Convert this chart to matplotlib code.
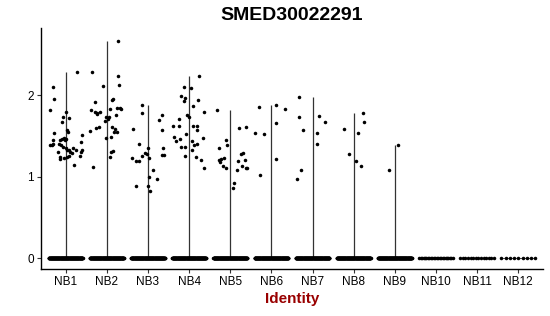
import numpy as np
import matplotlib
matplotlib.use("Agg")
import matplotlib.pyplot as plt

plt.rcParams['font.family'] = ['Liberation Sans', 'DejaVu Sans']

title = "SMED30022291"
xlabel = "Identity"
categories = ["NB1", "NB2", "NB3", "NB4", "NB5", "NB6", "NB7", "NB8", "NB9", "NB10", "NB11", "NB12"]

# number of cells with zero expression per identity
zero_counts = [200, 200, 200, 200, 200, 200, 200, 200, 200, 24, 14, 9]

# non-zero expression values per identity
nb1_vals = [2.29, 2.11, 1.96, 1.82, 1.80, 1.73, 1.72, 1.68, 1.58, 1.55, 1.54, 1.51, 1.48, 1.47, 1.47,
            1.45, 1.45, 1.45, 1.39, 1.39, 1.41, 1.41, 1.39, 1.37, 1.36, 1.33, 1.33, 1.30, 1.29, 1.26,
            1.24, 1.23, 1.24, 1.30, 1.36, 1.33, 1.30, 1.33, 1.43, 1.26, 1.15, 1.22]
nb2_vals = [2.67, 2.29, 2.24, 2.13, 2.12, 1.96, 1.95, 1.92, 1.82, 1.80, 1.79, 1.80, 1.77, 1.84, 1.74,
            1.85, 1.85, 1.84, 1.76, 1.73, 1.71, 1.69, 1.61, 1.59, 1.55, 1.55, 1.49, 1.48, 1.32, 1.30,
            1.24, 1.61, 1.60, 1.56, 1.12]
nb3_vals = [1.88, 1.78, 1.59, 1.76, 1.70, 1.57, 1.41, 1.35, 1.35, 1.29, 1.28, 1.26, 1.23, 1.23, 1.20,
            1.19, 1.27, 1.27, 1.08, 1.00, 0.97, 0.89, 0.89, 0.83]
nb4_vals = [2.24, 2.10, 2.09, 1.99, 1.97, 1.93, 1.94, 1.87, 1.80, 1.76, 1.73, 1.71, 1.62, 1.62, 1.53,
            1.62, 1.63, 1.58, 1.49, 1.44, 1.47, 1.37, 1.37, 1.44, 1.39, 1.33, 1.41, 1.48, 1.26, 1.24,
            1.21, 1.11]
nb5_vals = [1.82, 1.60, 1.61, 1.45, 1.39, 1.36, 1.28, 1.29, 1.21, 1.18, 1.22, 1.23, 1.13, 1.11, 1.20,
            1.21, 1.09, 1.13, 1.11, 1.11, 0.92, 0.86]
nb6_vals = [1.86, 1.88, 1.84, 1.66, 1.54, 1.53, 1.22, 1.02]
nb7_vals = [1.98, 1.74, 1.58, 1.08, 0.98, 1.75, 1.67, 1.54, 1.40]
nb8_vals = [1.59, 1.78, 1.68, 1.54, 1.28, 1.19, 1.13]
nb9_vals = [1.39, 1.08]

# horizontal jitter of the non-zero points (fraction of category spacing)
nb1_jit = [0.28, -0.31, -0.28, -0.39, 0.00, -0.07, 0.08, -0.08, 0.04, 0.06, -0.29, 0.39, -0.05, -0.10, 0.00,
           -0.13, -0.02, -0.32, -0.34, -0.38, -0.31, -0.17, -0.12, -0.07, 0.00, 0.02, 0.07, 0.11, 0.15, 0.08,
           0.02, -0.05, -0.13, -0.19, 0.18, 0.24, 0.36, 0.39, 0.38, 0.34, 0.20, -0.15]
nb2_jit = [0.27, -0.35, 0.28, 0.29, -0.09, 0.15, 0.13, -0.29, -0.39, -0.28, -0.23, -0.17, -0.25, 0.07, 0.05,
           0.25, 0.32, 0.35, 0.22, -0.02, 0.03, -0.05, 0.12, 0.20, 0.17, 0.24, 0.09, -0.01, 0.14, 0.09,
           0.07, -0.19, -0.27, -0.40, -0.33]
nb3_jit = [-0.15, -0.15, -0.37, 0.33, 0.26, 0.33, -0.22, 0.00, 0.36, -0.07, -0.03, -0.15, 0.03, -0.39, -0.30,
           -0.23, 0.33, 0.40, 0.12, 0.03, 0.22, 0.01, -0.30, 0.05]
nb4_jit = [0.25, -0.13, 0.04, -0.20, -0.11, -0.13, 0.21, 0.09, 0.37, -0.05, -0.01, -0.24, -0.39, -0.24, -0.07,
           0.09, 0.20, 0.19, -0.37, -0.33, -0.22, -0.20, -0.09, 0.08, 0.11, 0.06, 0.20, 0.33, -0.11, 0.17,
           0.29, 0.37]
nb5_jit = [-0.32, 0.20, 0.37, -0.10, -0.07, -0.27, 0.26, 0.30, -0.28, -0.26, -0.22, -0.15, -0.18, -0.10, 0.19,
           0.35, 0.17, 0.28, 0.37, 0.41, 0.10, 0.06]
nb6_jit = [-0.29, 0.12, 0.34, 0.11, -0.40, -0.18, 0.10, -0.27]
nb7_jit = [-0.33, -0.34, -0.23, -0.27, -0.39, 0.15, 0.29, 0.10, 0.10]
nb8_jit = [-0.24, 0.23, 0.25, 0.10, -0.12, 0.06, 0.17]
nb9_jit = [0.07, -0.15]

values = [nb1_vals, nb2_vals, nb3_vals, nb4_vals, nb5_vals, nb6_vals, nb7_vals, nb8_vals, nb9_vals, [], [], []]
jitters = [nb1_jit, nb2_jit, nb3_jit, nb4_jit, nb5_jit, nb6_jit, nb7_jit, nb8_jit, nb9_jit, [], [], []]

fig = plt.figure(figsize=(5.5, 3.16), dpi=100)
ax = fig.add_axes([41 / 550, 1 - 269.3 / 316, (543 - 41) / 550, (269.3 - 28.3) / 316])

for i, cat in enumerate(categories):
    pos = i + 1
    vals = values[i]
    if vals:
        ax.plot([pos, pos], [0, max(vals)], color='#333333', lw=0.9, zorder=1, solid_capstyle='butt')
    else:
        ax.plot([pos - 0.4, pos + 0.4], [0, 0], color='#333333', lw=0.6, zorder=1)
    n0 = zero_counts[i]
    zx = pos + np.linspace(-0.41, 0.41, n0)
    ax.scatter(zx, np.zeros(n0), s=6.5, color='black', linewidths=0, zorder=2)
    if vals:
        ax.scatter(pos + np.array(jitters[i]), vals, s=6.5, color='black', linewidths=0, zorder=2)

ax.set_xlim(0.4, 12.6)
ax.set_ylim(-0.1345, 2.825)
ax.set_xticks(range(1, len(categories) + 1))
ax.set_xticklabels(categories)
ax.set_yticks([0, 1, 2])
ax.set_yticklabels(["0", "1", "2"])
for s in ['top', 'right']:
    ax.spines[s].set_visible(False)
for s in ['left', 'bottom']:
    ax.spines[s].set_linewidth(1.0)
    ax.spines[s].set_color('black')
ax.tick_params(axis='both', length=3, width=0.8, color='#333333', labelsize=8.5, labelcolor='black', pad=2)

ax.set_xlabel(xlabel, fontsize=11, fontweight='bold', color='#990000', labelpad=3)
fig.text(292 / 550, 1 - 15 / 316, title, ha='center', va='center', fontsize=14, fontweight='bold')

fig.savefig("out.png", dpi=100)
